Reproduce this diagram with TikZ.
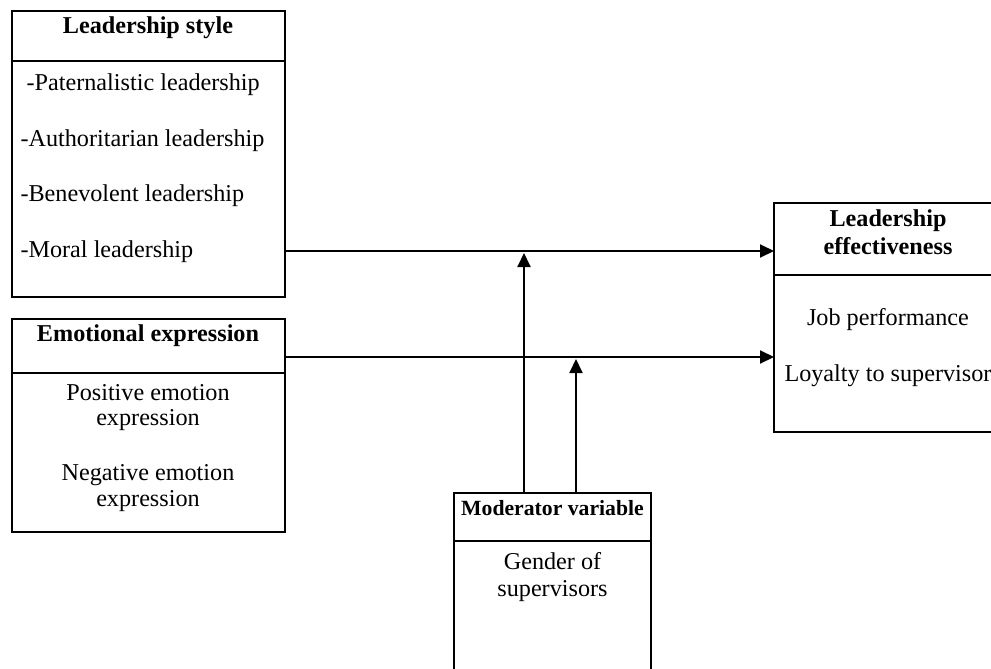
\documentclass[tikz,border=0pt]{standalone}
\usepackage{fontspec}
\setmainfont{Liberation Serif}
\usetikzlibrary{arrows.meta}
\begin{document}
\begin{tikzpicture}[x=1pt,y=-1pt,line width=2pt,
  box/.style={draw,rectangle,inner sep=0pt,outer sep=0pt,anchor=north west},
  txt/.style={inner sep=0pt,anchor=base,font=\fontsize{24.2}{26}\selectfont},
  txtl/.style={txt,anchor=base west},
  ttl/.style={txt,font=\fontsize{24.2}{26}\selectfont\bfseries},
  ttls/.style={txt,font=\fontsize{21.7}{24}\selectfont\bfseries},
  arr/.style={-{Triangle[length=14pt,width=13pt]}}]
\useasboundingbox (0,0) rectangle (991,669);
\clip (0,0) rectangle (991,669);

% boxes
\node[box,minimum width=272.5pt,minimum height=286pt] (ls) at (12,11) {};
\node[box,minimum width=272.5pt,minimum height=213pt] (ee) at (12,319) {};
\node[box,minimum width=197pt,minimum height=220pt] (mv) at (454,493) {};
\node[box,minimum width=228pt,minimum height=229pt] (le) at (774,203) {};

% dividers
\coordinate (d1) at (0,61);
\coordinate (d2) at (0,373);
\coordinate (d3) at (0,541);
\coordinate (d4) at (0,275);
\draw (ls.west |- d1) -- (ls.east |- d1);
\draw (ee.west |- d2) -- (ee.east |- d2);
\draw (mv.west |- d3) -- (mv.east |- d3);
\draw (le.west |- d4) -- (le.east |- d4);

% Leadership style
\node[ttl] (lst) at (148,34) {Leadership style};
\node[txtl] (ls1) at (19.5,90) {\ -Paternalistic leadership};
\node[txtl] (ls2) at (19.5,146.7) {-Authoritarian leadership};
\node[txtl] (ls3) at (19.5,201.7) {-Benevolent leadership};
\node[txtl] (ls4) at (19.5,257.7) {-Moral leadership};

% Emotional expression
\node[ttl] (eet) at (148,341.7) {Emotional expression};
\node[txt] (ee1) at (148,400) {Positive emotion};
\node[txt] (ee2) at (148,425.7) {expression};
\node[txt] (ee3) at (148,480) {Negative emotion};
\node[txt] (ee4) at (148,506.7) {expression};

% Moderator variable
\node[ttls] (mvt) at (552.5,515) {Moderator variable};
\node[txt] (mv1) at (552.5,569) {Gender of};
\node[txt] (mv2) at (552.5,596.7) {supervisors};

% Leadership effectiveness
\node[ttl] (let1) at (888,226) {Leadership};
\node[ttl] (let2) at (888,254) {effectiveness};
\node[txt] (le1) at (888,325) {Job performance};
\node[txt] (le2) at (888,381.7) {Loyalty to supervisor};

% connectors
\coordinate (a1) at (0,251);
\coordinate (a2) at (0,357);
\coordinate (v1) at (524,253);
\coordinate (v2) at (576,359);
\draw[arr] (ls.east |- a1) -- (le.west |- a1);
\draw[arr] (ee.east |- a2) -- (le.west |- a2);
\draw[arr] (mv.north -| v1) -- (v1);
\draw[arr] (mv.north -| v2) -- (v2);
\end{tikzpicture}
\end{document}
